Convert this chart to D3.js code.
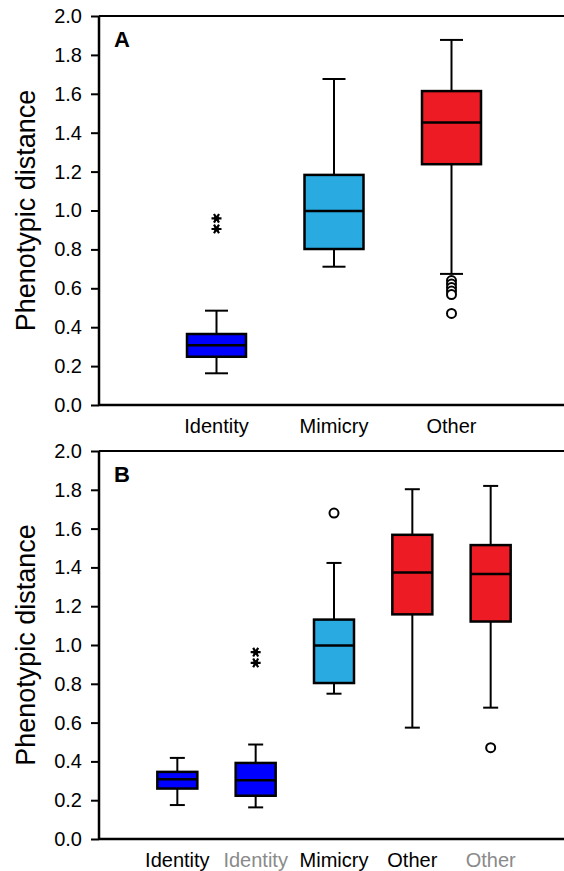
<!doctype html>
<html lang="en">
<head>
  <script src="https://cdnjs.cloudflare.com/ajax/libs/d3/7.8.5/d3.min.js"></script>
  <style>
    body { margin: 0; padding: 0; background: #fff; }
    svg { display: block; }
    text { font-family: "Liberation Sans", Arial, sans-serif; }
  </style>
</head>
<body>
<svg id="canvas" width="564" height="871"></svg>
<script>
// panel A
var catsA = ['Identity', 'Mimicry', 'Other'];
var labelColA = ['#000', '#000', '#000'];
var fillA = ['#0000ff', '#29abe2', '#ed1c24'];
var loA  = [0.163, 0.711, 0.674];
var q1A  = [0.248, 0.802, 1.238];
var medA = [0.307, 0.997, 1.453];
var q3A  = [0.365, 1.183, 1.614];
var hiA  = [0.485, 1.676, 1.877];
var circA = [[2, 0.640], [2, 0.622], [2, 0.604], [2, 0.586], [2, 0.568], [2, 0.471]];
var starA = [[0, 0.960], [0, 0.905]];

// panel B
var catsB = ['Identity', 'Identity', 'Mimicry', 'Other', 'Other'];
var labelColB = ['#000', '#8a8a8a', '#000', '#000', '#8a8a8a'];
var fillB = ['#0000ff', '#0000ff', '#29abe2', '#ed1c24', '#ed1c24'];
var loB  = [0.175, 0.163, 0.749, 0.574, 0.677];
var q1B  = [0.260, 0.223, 0.804, 1.158, 1.121];
var medB = [0.308, 0.303, 0.997, 1.374, 1.366];
var q3B  = [0.346, 0.392, 1.131, 1.568, 1.515];
var hiB  = [0.418, 0.487, 1.423, 1.803, 1.820];
var circB = [[2, 1.680], [4, 0.471]];
var starB = [[1, 0.963], [1, 0.908]];

var yTicks = [0, 0.2, 0.4, 0.6, 0.8, 1.0, 1.2, 1.4, 1.6, 1.8, 2.0];

var svg = d3.select('#canvas');
var axisX = 99, rightX = 564, xEnd = 569;

function panel(opt) {
  var g = svg.append('g');
  var y = d3.scaleLinear().domain([0, 2]).range([opt.bottom, opt.top]);
  var idx = d3.range(opt.cats.length);
  var x = d3.scalePoint().domain(idx).range([axisX, xEnd]).padding(1);

  // frame lines
  g.append('line').attr('x1', axisX).attr('x2', rightX)
    .attr('y1', opt.top).attr('y2', opt.top)
    .attr('stroke', '#000').attr('stroke-width', 2);
  g.append('line').attr('x1', axisX).attr('x2', rightX)
    .attr('y1', opt.bottom).attr('y2', opt.bottom)
    .attr('stroke', '#000').attr('stroke-width', 2.5);

  var ax = g.append('g').attr('transform', 'translate(' + axisX + ',0)')
    .call(d3.axisLeft(y).tickValues(yTicks).tickFormat(d3.format('.1f'))
      .tickSize(8).tickPadding(9));
  ax.select('.domain').attr('stroke-width', 2.5).attr('d', 'M0,' + opt.top + 'V' + opt.bottom);
  ax.selectAll('.tick line').attr('stroke-width', 2);
  ax.selectAll('.tick text').attr('font-size', 20).attr('fill', '#000')
    .style('font-family', '"Liberation Sans", Arial, sans-serif');

  // y title
  g.append('text')
    .attr('transform', 'translate(35,' + (opt.top + opt.bottom) / 2 + ') rotate(-90)')
    .attr('text-anchor', 'middle')
    .attr('font-size', 27)
    .text('Phenotypic distance');

  // panel letter
  g.append('text').attr('x', 114).attr('y', opt.top + 31)
    .attr('font-size', 22).attr('font-weight', 'bold').text(opt.letter);

  // category labels
  g.selectAll('.cat').data(idx).enter().append('text')
    .attr('x', function(d) { return x(d); })
    .attr('y', opt.bottom + 28)
    .attr('text-anchor', 'middle')
    .attr('font-size', 20)
    .attr('fill', function(d) { return opt.labelCol[d]; })
    .text(function(d) { return opt.cats[d]; });

  var bw = opt.boxW, cw = opt.capW;
  var boxes = g.selectAll('.box').data(idx).enter().append('g');

  boxes.append('line')
    .attr('x1', function(d) { return x(d); }).attr('x2', function(d) { return x(d); })
    .attr('y1', function(d) { return y(opt.lo[d]); })
    .attr('y2', function(d) { return y(opt.hi[d]); })
    .attr('stroke', '#000').attr('stroke-width', 2);
  [opt.lo, opt.hi].forEach(function(arr) {
    boxes.append('line')
      .attr('x1', function(d) { return x(d) - cw / 2; })
      .attr('x2', function(d) { return x(d) + cw / 2; })
      .attr('y1', function(d) { return y(arr[d]); })
      .attr('y2', function(d) { return y(arr[d]); })
      .attr('stroke', '#000').attr('stroke-width', 2);
  });
  boxes.append('rect')
    .attr('x', function(d) { return x(d) - bw / 2; })
    .attr('y', function(d) { return y(opt.q3[d]); })
    .attr('width', bw)
    .attr('height', function(d) { return y(opt.q1[d]) - y(opt.q3[d]); })
    .attr('fill', function(d) { return opt.fill[d]; })
    .attr('stroke', '#000').attr('stroke-width', 2.5);
  boxes.append('line')
    .attr('x1', function(d) { return x(d) - bw / 2; })
    .attr('x2', function(d) { return x(d) + bw / 2; })
    .attr('y1', function(d) { return y(opt.med[d]); })
    .attr('y2', function(d) { return y(opt.med[d]); })
    .attr('stroke', '#000').attr('stroke-width', 2.5);

  g.selectAll('.circ').data(opt.circ).enter().append('circle')
    .attr('cx', function(d) { return x(d[0]); })
    .attr('cy', function(d) { return y(d[1]); })
    .attr('r', 4.5)
    .attr('fill', '#fff').attr('stroke', '#000').attr('stroke-width', 2);

  var star = d3.symbol().type(d3.symbolAsterisk).size(70);
  var stars = g.selectAll('.star').data(opt.star).enter().append('g')
    .attr('transform', function(d) { return 'translate(' + x(d[0]) + ',' + y(d[1]) + ') rotate(90)'; });
  stars.append('circle').attr('r', 2.5).attr('fill', '#000');
  stars.append('path').attr('d', star)
    .attr('fill', 'none').attr('stroke', '#000').attr('stroke-width', 2.2);
}

panel({ top: 16, bottom: 405, letter: 'A', cats: catsA, labelCol: labelColA, fill: fillA,
  lo: loA, q1: q1A, med: medA, q3: q3A, hi: hiA, circ: circA, star: starA, boxW: 59, capW: 23 });
panel({ top: 451, bottom: 839, letter: 'B', cats: catsB, labelCol: labelColB, fill: fillB,
  lo: loB, q1: q1B, med: medB, q3: q3B, hi: hiB, circ: circB, star: starB, boxW: 40, capW: 15 });
</script>
</body>
</html>
